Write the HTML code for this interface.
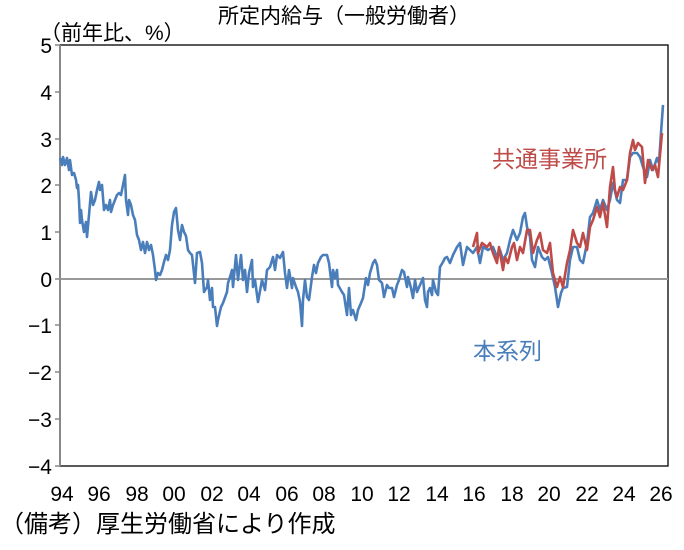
<!DOCTYPE html>
<html><head><meta charset="utf-8"><style>
body{margin:0;background:#fff}
svg text{font-family:"Liberation Sans Narrow","Liberation Sans","Noto Sans CJK JP",sans-serif}
.j{font-family:"Liberation Sans","Noto Sans CJK JP",sans-serif}
</style></head><body>
<svg width="684" height="545" xmlns="http://www.w3.org/2000/svg">
<rect x="60" y="45" width="608" height="421" fill="none" stroke="#000" stroke-width="1.3"/>
<line x1="60" y1="45" x2="60" y2="466" stroke="#888" stroke-width="2"/>
<line x1="60" y1="279" x2="668" y2="279" stroke="#999" stroke-width="2"/>
<g stroke="#888" stroke-width="1.5">
<line x1="55" y1="45" x2="60" y2="45"/><line x1="55" y1="92" x2="60" y2="92"/><line x1="55" y1="139" x2="60" y2="139"/><line x1="55" y1="185" x2="60" y2="185"/><line x1="55" y1="232" x2="60" y2="232"/><line x1="55" y1="279" x2="60" y2="279"/><line x1="55" y1="325" x2="60" y2="325"/><line x1="55" y1="372" x2="60" y2="372"/><line x1="55" y1="419" x2="60" y2="419"/><line x1="55" y1="466" x2="60" y2="466"/>
</g>
<g font-size="21" text-anchor="end" fill="#000">
<text x="52" y="53">5</text><text x="52" y="100">4</text><text x="52" y="147">3</text><text x="52" y="193">2</text><text x="52" y="240">1</text><text x="52" y="287">0</text><text x="52" y="333">−1</text><text x="52" y="380">−2</text><text x="52" y="427">−3</text><text x="52" y="474">−4</text>
</g>
<g font-size="21" text-anchor="middle" fill="#000">
<text x="62" y="501">94</text><text x="99" y="501">96</text><text x="137" y="501">98</text><text x="174" y="501">00</text><text x="212" y="501">02</text><text x="249" y="501">04</text><text x="287" y="501">06</text><text x="324" y="501">08</text><text x="362" y="501">10</text><text x="399" y="501">12</text><text x="437" y="501">14</text><text x="474" y="501">16</text><text x="512" y="501">18</text><text x="549" y="501">20</text><text x="587" y="501">22</text><text x="624" y="501">24</text><text x="661" y="501">26</text>
</g>
<text class="j" x="344" y="23" font-size="21" text-anchor="middle">所定内給与（一般労働者）</text>
<text class="j" x="40" y="40" font-size="21">（前年比、%）</text>
<text class="j" x="0" y="532" font-size="24">（備考）厚生労働省により作成</text>
<text class="j" x="492" y="167" font-size="23" fill="#be4b48">共通事業所</text>
<text class="j" x="473" y="359" font-size="23" fill="#4a7ebb">本系列</text>
<polyline fill="none" stroke="#4a7ebb" stroke-width="2.6" stroke-linejoin="round" points="60,158 62,165 63,157 65,165 67,158 69,170 70,160 72,175 74,173 76,180 77,188 78,185 79,200 80,223 81,210 82,220 84,232 86,222 87,237 89,215 91,192 93,205 95,200 97,190 99,182 100,190 102,185 104,210 106,205 108,210 110,200 111,212 113,205 115,200 117,195 119,193 121,195 123,185 125,175 126,200 128,215 129,200 131,205 133,215 135,220 137,235 139,240 141,250 143,242 145,253 147,242 149,250 151,245 153,255 155,270 156,280 158,273 160,275 162,270 164,262 166,255 168,260 170,250 172,225 174,212 176,208 178,230 180,240 182,225 184,232 186,236 188,250 190,253 192,255 195,283 197,253 200,252 202,263 204,292 207,287 208,280 210,300 212,288 213,307 215,307 217,326 218,320 221,307 223,303 227,292 228,283 230,277 232,270 233,287 236,255 238,280 241,255 243,280 245,270 247,292 249,273 252,260 253,287 255,280 258,302 262,280 265,290 267,270 270,267 273,257 275,270 277,255 280,258 283,252 285,273 287,288 289,270 292,288 293,278 296,287 298,292 300,302 302,326 303,300 305,280 307,297 309,300 312,277 314,265 316,273 318,263 321,257 323,255 327,255 329,263 332,287 333,270 335,278 337,270 338,285 342,292 344,295 347,315 349,288 351,315 353,310 356,320 358,310 361,303 363,298 366,278 368,285 370,273 373,263 375,260 377,265 379,280 382,283 384,297 387,285 389,288 392,288 394,297 397,285 399,280 402,270 404,272 407,287 408,277 411,288 413,298 415,280 417,292 420,285 423,278 425,300 427,307 428,292 430,288 432,295 433,280 436,292 438,295 440,267 443,262 445,258 447,257 450,263 453,255 457,247 460,243 463,265 467,247 470,250 473,253 477,247 480,263 483,247 488,250 493,247 497,257 500,250 503,260 507,253 510,240 513,230 517,240 520,233 523,217 525,213 527,227 530,237 532,260 535,267 538,247 542,257 545,260 548,257 552,273 555,287 558,307 561,293 563,288 567,287 570,260 573,247 577,247 580,260 583,263 587,243 590,217 593,213 597,200 600,210 603,200 607,210 610,200 613,183 617,200 620,203 623,180 627,180 630,157 633,153 637,153 640,157 643,167 647,177 650,160 653,170 657,158 659,163 661,133 663,105"/>
<polyline fill="none" stroke="#be4b48" stroke-width="2.6" stroke-linejoin="round" points="473,247 477,233 478,253 482,243 487,247 490,243 493,253 497,263 499,247 503,270 505,257 508,263 512,247 514,243 517,260 520,247 523,253 527,230 530,230 533,253 537,240 540,233 543,250 547,253 550,243 553,273 557,287 560,277 563,287 567,263 570,250 573,230 577,243 580,247 583,233 587,250 590,227 593,220 597,207 600,217 603,203 607,227 610,187 613,167 615,190 617,197 620,187 623,190 627,180 630,153 633,140 635,150 638,143 642,147 645,183 648,160 652,170 655,165 658,177 662,133"/>
</svg>
</body></html>
